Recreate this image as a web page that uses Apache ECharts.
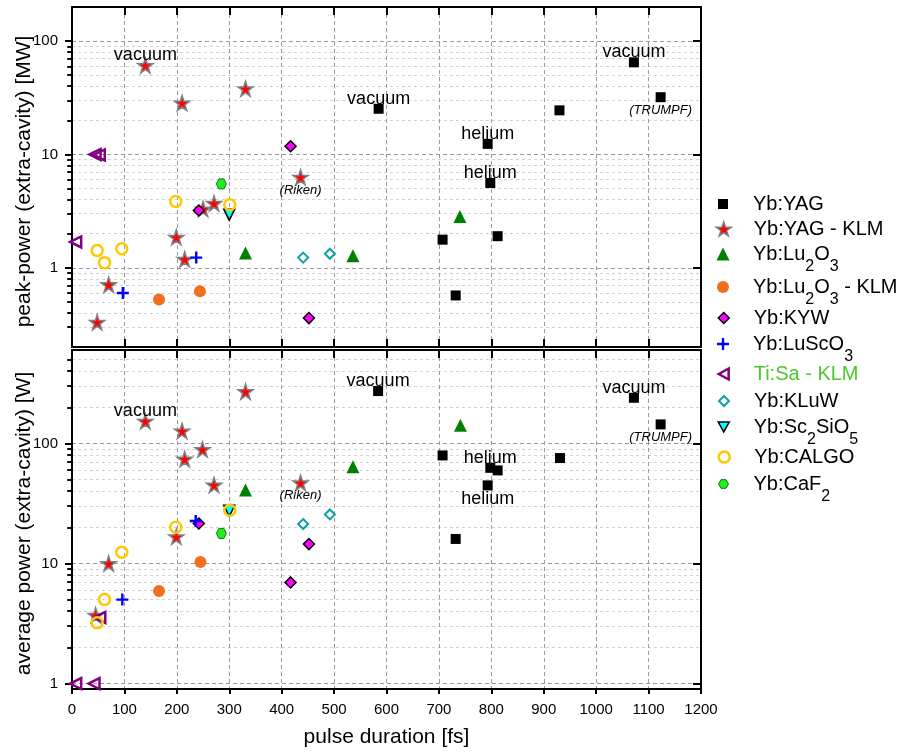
<!DOCTYPE html>
<html>
<head>
<meta charset="utf-8">
<script src="https://cdn.jsdelivr.net/npm/echarts@6/dist/echarts.min.js"></script>
<style>
  html, body { margin: 0; padding: 0; background: #ffffff; }
  #chart { width: 900px; height: 753px; }
</style>
</head>
<body>
<div id="chart"></div>
<script>
// ---- data: pulse duration [fs] vs. extra-cavity peak power [MW] / average power [W] ----
const seriesNames = ['Yb:YAG', 'Yb:YAG - KLM', 'Yb:Lu2O3', 'Yb:Lu2O3 - KLM', 'Yb:KYW', 'Yb:LuScO3',
                     'Ti:Sa - KLM', 'Yb:KLuW', 'Yb:Sc2SiO5', 'Yb:CALGO', 'Yb:CaF2'];

const xRange = [0, 1200];
const xStep = 100;
const peakRange = [0.2, 200];
const avgRange = [0.9, 600];
const peakDecades = [1, 10, 100];
const avgDecades = [1, 10, 100];

// peak power [MW]
const peakYAG      = [[585, 25.3], [930, 24.5], [1072, 65], [1123, 32], [793, 12.4], [798, 5.6], [707, 1.77], [812, 1.9], [732, 0.57]];
const peakYAGKLM   = [[140, 61], [210, 28.4], [331, 38], [436, 6.3], [271, 3.7], [250, 3.3], [199, 1.86], [215, 1.19], [70, 0.71], [48, 0.33]];
const peakLu2O3    = [[331, 1.35], [536, 1.28], [740, 2.84]];
const peakLu2O3KLM = [[166, 0.525], [244, 0.62]];
const peakKYW      = [[417, 11.8], [242, 3.2], [452, 0.36]];
const peakLuScO3   = [[97, 0.6], [237, 1.23]];
const peakTiSa     = [[7, 1.69], [44, 10], [52, 9.9]];
const peakKLuW     = [[441, 1.23], [492, 1.33]];
const peakSc2SiO5  = [[300, 2.94]];
const peakCALGO    = [[198, 3.85], [301, 3.6], [48, 1.42], [62, 1.11], [95, 1.47]];
const peakCaF2     = [[285, 5.5]];

// average power [W]
const avgYAG      = [[584, 273], [1072, 240], [1123, 144], [931, 75.5], [707, 79.4], [798, 62.6], [812, 59.6], [793, 44.7], [732, 16]];
const avgYAGKLM   = [[140, 153], [210, 127], [331, 270], [436, 47], [271, 45], [249, 89], [199, 16.7], [215, 74], [70, 10], [45, 3.7]];
const avgLu2O3    = [[331, 40.9], [536, 64], [741, 142]];
const avgLu2O3KLM = [[166, 5.9], [245, 10.3]];
const avgKYW      = [[242, 21.5], [452, 14.5], [417, 6.95]];
const avgLuScO3   = [[236, 22.6], [96, 5.0]];
const avgTiSa     = [[7, 1], [42, 1], [53, 3.55]];
const avgKLuW     = [[441, 21.3], [492, 25.6]];
const avgSc2SiO5  = [[300, 27.5]];
const avgCALGO    = [[301, 27.8], [198, 20], [95, 12.4], [62, 5.0], [48, 3.2]];
const avgCaF2     = [[285, 17.8]];

// annotations: [series, pulse duration of the annotated point, text]
const peakNotes = [['Yb:YAG - KLM', 140, 'vacuum'], ['Yb:YAG', 585, 'vacuum'], ['Yb:YAG', 1072, 'vacuum'],
                   ['Yb:YAG', 1123, '(TRUMPF)'], ['Yb:YAG', 793, 'helium'], ['Yb:YAG', 798, 'helium'],
                   ['Yb:YAG - KLM', 436, '(Riken)']];
const avgNotes  = [['Yb:YAG - KLM', 140, 'vacuum'], ['Yb:YAG', 584, 'vacuum'], ['Yb:YAG', 1072, 'vacuum'],
                   ['Yb:YAG', 1123, '(TRUMPF)'], ['Yb:YAG', 798, 'helium'], ['Yb:YAG', 793, 'helium'],
                   ['Yb:YAG - KLM', 436, '(Riken)']];

const peakData = [peakYAG, peakYAGKLM, peakLu2O3, peakLu2O3KLM, peakKYW, peakLuScO3, peakTiSa, peakKLuW, peakSc2SiO5, peakCALGO, peakCaF2];
const avgData  = [avgYAG, avgYAGKLM, avgLu2O3, avgLu2O3KLM, avgKYW, avgLuScO3, avgTiSa, avgKLuW, avgSc2SiO5, avgCALGO, avgCaF2];

// ---- styling ----
const FONT = '"Liberation Sans", Arial, Helvetica, sans-serif';
const STAR = 'path://M50,0 L61.23,34.55 L97.55,34.55 L68.17,55.9 L79.39,90.45 L50,69.1 L20.61,90.45 L31.83,55.9 L2.45,34.55 L38.77,34.55 Z';
const PLUS = 'path://M4,0 L6,0 L6,4 L10,4 L10,6 L6,6 L6,10 L4,10 L4,6 L0,6 L0,4 L4,4 Z';
const LEFT_TRI = 'path://M0,5 L9,0 L9,10 Z';
const DOWN_TRI = 'path://M0,0 L10,0 L5,9 Z';
const HEX = 'path://M2.5,0 L7.5,0 L10,4.33 L7.5,8.66 L2.5,8.66 L0,4.33 Z';
const CLEAR = 'rgba(0,0,0,0)';

const markerStyles = [
  { symbol: 'rect',     size: 10, itemStyle: { color: '#000000' } },
  { symbol: STAR,       size: 15, itemStyle: { color: '#ff0000', borderColor: '#808080', borderWidth: 1.5 } },
  { symbol: 'triangle', size: 13, itemStyle: { color: '#007f00' } },
  { symbol: 'circle',   size: 12, itemStyle: { color: '#f07020' } },
  { symbol: 'diamond',  size: 11, itemStyle: { color: '#ff00ff', borderColor: '#000000', borderWidth: 1.5 } },
  { symbol: PLUS,       size: 12, itemStyle: { color: '#0000ff' } },
  { symbol: LEFT_TRI,   size: 11, itemStyle: { color: CLEAR, borderColor: '#800080', borderWidth: 2.5 } },
  { symbol: 'diamond',  size: 10, itemStyle: { color: CLEAR, borderColor: '#10a0a4', borderWidth: 2 } },
  { symbol: DOWN_TRI,   size: 11, itemStyle: { color: '#00ffff', borderColor: '#000000', borderWidth: 1.5 } },
  { symbol: 'circle',   size: 11, itemStyle: { color: CLEAR, borderColor: '#ffc800', borderWidth: 2.5 } },
  { symbol: HEX,        size: 10, itemStyle: { color: '#22ee22', borderColor: '#0a7a0a', borderWidth: 1 } }
];
const legendCenters = [204, 229, 254, 287, 318, 344, 374, 401, 427, 457, 484];
const legendTextColors = seriesNames.map(n => n === 'Ti:Sa - KLM' ? '#4cc82c' : '#000000');
const LEGEND_ICON_X = 723;   // centre of the legend markers
const LEGEND_TEXT_X = 753;   // left edge of the legend texts
const LEGEND_LINE = 26;

// notes printed under their point instead of above it
const notesBelow = { peak: ['(TRUMPF)', '(Riken)'], avg: ['(TRUMPF)', '(Riken)', 'helium@793'] };

function minorValues(lo, hi) {
  const out = [];
  for (let e = -1; e <= 2; e++) {
    const d = Math.pow(10, e);
    for (let m = 2; m <= 9; m++) {
      const v = +(m * d).toPrecision(3);
      if (v > lo && v < hi) out.push(v);
    }
  }
  return out;
}

const grids = [
  { left: 72, width: 629, top: 7, height: 340 },
  { left: 72, width: 629, top: 350, height: 339 }
];

const blackLine = { color: '#000000', width: 2 };
const xAxes = [];
const yAxes = [];
[0, 1].forEach(p => {
  xAxes.push({
    gridIndex: p, type: 'value', position: 'bottom', min: xRange[0], max: xRange[1], interval: xStep,
    axisLine: { show: true, onZero: false, lineStyle: blackLine },
    axisTick: { show: true, inside: p === 0, length: p === 0 ? 8 : 5, lineStyle: blackLine },
    axisLabel: { show: p === 1, fontSize: 15, color: '#000', margin: 13, fontFamily: FONT,
                 formatter: v => String(v) },
    splitLine: { show: true, lineStyle: { color: '#9a9a9a', type: [4, 3], width: 1 } },
    name: p === 1 ? 'pulse duration [fs]' : '', nameLocation: 'middle', nameGap: 38, nameMoveOverlap: false,
    nameTextStyle: { fontSize: 21, color: '#000', fontFamily: FONT }
  });
  xAxes.push({
    gridIndex: p, type: 'value', position: 'top', min: xRange[0], max: xRange[1], interval: xStep,
    axisLine: { show: true, onZero: false, lineStyle: blackLine },
    axisTick: { show: true, inside: true, length: 8, lineStyle: blackLine },
    axisLabel: { show: false }, splitLine: { show: false }
  });
  const range = p === 0 ? peakRange : avgRange;
  const decades = p === 0 ? peakDecades : avgDecades;
  const minors = minorValues(range[0], range[1]);
  const base = { gridIndex: p, type: 'log', logBase: 10, min: range[0], max: range[1] };
  yAxes.push(Object.assign({}, base, {
    position: 'left',
    axisLine: { show: true, onZero: false, lineStyle: blackLine },
    axisTick: { show: true, inside: false, length: 7, customValues: decades, lineStyle: blackLine },
    axisLabel: { show: true, customValues: decades, fontSize: 15, color: '#000', margin: 14, fontFamily: FONT,
                 formatter: v => String(v) },
    splitLine: { show: true, lineStyle: { color: '#9a9a9a', type: [4, 3], width: 1 } },
    name: p === 0 ? 'peak-power (extra-cavity) [MW]' : 'average power (extra-cavity) [W]',
    nameLocation: 'middle', nameRotate: 90, nameGap: 37, nameMoveOverlap: false,
    nameTextStyle: { fontSize: 21, color: '#000', fontFamily: FONT,
                     padding: p === 0 ? [0, 9, 0, 0] : [0, 8, 0, 0] }
  }));
  yAxes.push(Object.assign({}, base, {
    position: 'left',
    axisLine: { show: false },
    axisTick: { show: true, inside: false, length: 4, customValues: minors, lineStyle: { color: '#000', width: 1.5 } },
    axisLabel: { show: false },
    splitLine: { show: true, lineStyle: { color: '#d2d2d2', type: [3, 3], width: 1 } }
  }));
  yAxes.push(Object.assign({}, base, {
    position: 'right',
    axisLine: { show: true, onZero: false, lineStyle: blackLine },
    axisTick: { show: true, inside: true, length: 8, customValues: decades, lineStyle: blackLine },
    axisLabel: { show: false }, splitLine: { show: false }
  }));
  yAxes.push(Object.assign({}, base, {
    position: 'right',
    axisLine: { show: false },
    axisTick: { show: true, inside: true, length: 5, customValues: minors, lineStyle: { color: '#000', width: 1.5 } },
    axisLabel: { show: false }, splitLine: { show: false }
  }));
});

function noteLabel(text, below) {
  const italic = text.charAt(0) === '(';
  return {
    show: true, position: 'inside', formatter: text,
    offset: [0, below ? (italic ? 13 : 14) : -10],
    fontSize: italic ? 13 : 18, fontStyle: italic ? 'italic' : 'normal',
    color: '#000', fontFamily: FONT
  };
}

function buildItems(points, name, notes, panelKey) {
  return points.map(pt => {
    const note = notes.find(n => n[0] === name && n[1] === pt[0]);
    if (!note) return { value: pt };
    const text = note[2];
    const below = notesBelow[panelKey].includes(text) || notesBelow[panelKey].includes(text + '@' + pt[0]);
    return { value: pt, label: noteLabel(text, below) };
  });
}

const series = [];
[0, 1].forEach(p => {
  const sets = p === 0 ? peakData : avgData;
  const notes = p === 0 ? peakNotes : avgNotes;
  const key = p === 0 ? 'peak' : 'avg';
  seriesNames.forEach((name, i) => {
    const st = markerStyles[i];
    series.push({
      type: 'scatter', name: name,
      xAxisIndex: p * 2, yAxisIndex: p * 4,
      symbol: st.symbol, symbolSize: st.size,
      itemStyle: Object.assign({ opacity: 1 }, st.itemStyle),
      label: { show: false },
      emphasis: { disabled: true },
      data: buildItems(sets[i], name, notes, key)
    });
  });
});

// one legend block per entry so every row sits at its own height
const legends = seriesNames.map((name, i) => {
  const s = markerStyles[i].size;
  return {
    data: [name], orient: 'vertical', left: LEGEND_ICON_X - s / 2, top: legendCenters[i] - LEGEND_LINE / 2,
    padding: 0, itemWidth: s, itemHeight: s, itemGap: 0, selectedMode: false,
    itemStyle: Object.assign({}, markerStyles[i].itemStyle),
    formatter: n => n.replace(/\d/g, d => '{s|' + d + '}'),
    textStyle: {
      fontSize: 20, lineHeight: LEGEND_LINE, color: legendTextColors[i], fontFamily: FONT,
      padding: [0, 0, 0, LEGEND_TEXT_X - (LEGEND_ICON_X + s / 2 + 5)],
      rich: { s: { fontSize: 16, lineHeight: LEGEND_LINE, height: 1, verticalAlign: 'bottom',
                   color: legendTextColors[i], fontFamily: FONT } }
    }
  };
});

const chart = echarts.init(document.getElementById('chart'));
chart.setOption({
  animation: false,
  backgroundColor: '#ffffff',
  textStyle: { fontFamily: FONT },
  grid: grids,
  xAxis: xAxes,
  yAxis: yAxes,
  legend: legends,
  series: series
});
</script>
</body>
</html>
